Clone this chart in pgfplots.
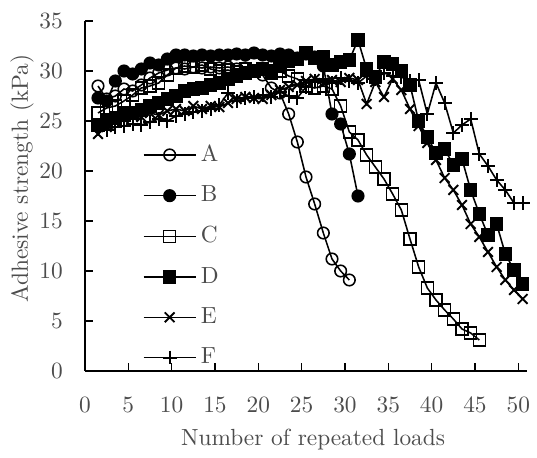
\documentclass[border=0pt]{standalone}
\usepackage{pgfplots}
\pgfplotsset{compat=1.18}
\definecolor{txt}{gray}{0.3}
\begin{document}
\begin{tikzpicture}
\useasboundingbox (-38.25pt,-39.15pt) rectangle (203.4pt,166.95pt);
\begin{axis}[
  at={(0,0)}, anchor=origin,
  scale only axis, width=198.9pt, height=157.5pt,
  xmin=0, xmax=51, ymin=0, ymax=35,
  axis x line=bottom, axis y line=left,
  axis line style={-, line width=0.65pt, black},
  xtick={0,5,...,50}, ytick={0,5,...,35},
  tick align=inside, major tick length=3.6pt,
  tick style={line width=0.65pt, black},
  /pgf/number format/assume math mode=true,
  every tick label/.append style={font=\fontsize{10.5pt}{12pt}\selectfont, text=txt},
  xticklabel style={yshift=-8pt},
  yticklabel style={xshift=-6.5pt},
  xlabel={Number of repeated loads},
  ylabel={Adhesive strength (kPa)},
  every axis x label/.style={at={(axis description cs:0.516,-0.197)}, anchor=center, font=\fontsize{10.5pt}{12pt}\selectfont, text=txt},
  every axis y label/.style={at={(axis description cs:-0.1425,0.55)}, anchor=center, rotate=90, font=\fontsize{10.5pt}{12pt}\selectfont, text=txt},
  legend style={draw=none, fill=none, at={(axis description cs:0.13,0.66)}, anchor=north west,
    font=\fontsize{10.5pt}{12pt}\selectfont, text=txt, row sep=5.5pt, inner sep=0pt},
  legend cell align=left,
  legend image code/.code={\draw[mark repeat=2,mark phase=2] plot coordinates {(0pt,0pt)(11.7pt,0pt)(23.4pt,0pt)};},
  every axis plot/.append style={line width=0.7pt, black, mark options={line width=0.85pt, solid}},
]
% A
\addplot[mark=o, mark size=2.6pt, mark options={fill=white}] coordinates {
(1.5,28.5)(2.5,27.2)(3.5,27.5)(4.5,28.2)(5.5,28.0)(6.5,28.6)(7.5,29.3)(8.5,29.8)(9.5,30.1)(10.5,30.3)
(11.5,30.2)(12.5,30.4)(13.5,30.3)(14.5,30.4)(15.5,30.3)(16.5,30.4)(17.5,30.2)(18.5,30.3)(19.5,30.0)(20.5,29.6)
(21.5,28.3)(22.5,27.8)(23.5,25.7)(24.5,22.9)(25.5,19.4)(26.5,16.7)(27.5,13.8)(28.5,11.2)(29.5,10.0)(30.5,9.1)};
\addlegendentry{A}
% B
\addplot[mark=*, mark size=2.6pt, mark options={fill=black}] coordinates {
(1.5,27.3)(2.5,27.0)(3.5,29.0)(4.5,30.0)(5.5,29.7)(6.5,30.2)(7.5,30.8)(8.5,30.6)(9.5,31.2)(10.5,31.6)
(11.5,31.6)(12.5,31.5)(13.5,31.6)(14.5,31.5)(15.5,31.6)(16.5,31.6)(17.5,31.7)(18.5,31.6)(19.5,31.8)(20.5,31.6)
(21.5,31.5)(22.5,31.7)(23.5,31.6)(24.5,31.3)(25.5,31.7)(26.5,31.4)(27.5,30.5)(28.5,25.7)(29.5,24.7)(30.5,21.7)
(31.5,17.5)};
\addlegendentry{B}
% C
\addplot[mark=square, mark size=2.7pt, mark options={fill=white}] coordinates {
(1.5,25.8)(2.5,26.3)(3.5,26.5)(4.5,27.0)(5.5,27.6)(6.5,28.3)(7.5,28.5)(8.5,28.8)(9.5,29.6)(10.5,30.3)
(11.5,30.5)(12.5,30.4)(13.5,30.6)(14.5,30.2)(15.5,30.0)(16.5,30.1)(17.5,29.9)(18.5,30.2)(19.5,30.0)(20.5,30.2)
(21.5,29.8)(22.5,30.0)(23.5,29.5)(24.5,29.2)(25.5,28.5)(26.5,28.3)(27.5,28.5)(28.5,28.2)(29.5,26.5)(30.5,23.9)
(31.5,23.1)(32.5,21.6)(33.5,20.4)(34.5,19.2)(35.5,17.7)(36.5,16.1)(37.5,13.2)(38.5,10.4)(39.5,8.3)(40.5,7.1)
(41.5,6.1)(42.5,5.2)(43.5,4.2)(44.5,3.8)(45.5,3.1)};
\addlegendentry{C}
% D
\addplot[mark=square*, mark size=2.7pt, mark options={fill=black}] coordinates {
(1.5,24.6)(2.5,25.0)(3.5,25.3)(4.5,25.6)(5.5,25.8)(6.5,26.1)(7.5,26.5)(8.5,26.8)(9.5,27.2)(10.5,27.5)
(11.5,28.0)(12.5,28.2)(13.5,28.3)(14.5,28.6)(15.5,28.8)(16.5,29.2)(17.5,29.5)(18.5,29.8)(19.5,30.0)(20.5,30.2)
(21.5,30.0)(22.5,30.5)(23.5,31.0)(24.5,31.2)(25.5,31.8)(26.5,31.3)(27.5,31.4)(28.5,30.6)(29.5,30.9)(30.5,31.1)
(31.5,33.1)(32.5,30.2)(33.5,29.4)(34.5,30.9)(35.5,30.7)(36.5,30.0)(37.5,28.6)(38.5,25.0)(39.5,23.4)(40.5,21.8)
(41.5,22.2)(42.5,20.6)(43.5,21.2)(44.5,18.1)(45.5,15.7)(46.5,13.6)(47.5,14.7)(48.5,11.7)(49.5,10.1)(50.5,8.7)};
\addlegendentry{D}
% E
\addplot[mark=x, mark size=3.1pt] coordinates {
(1.5,23.7)(2.5,24.4)(3.5,25.0)(4.5,25.2)(5.5,25.5)(6.5,25.4)(7.5,25.8)(8.5,25.6)(9.5,26.0)(10.5,26.2)
(11.5,26.0)(12.5,26.5)(13.5,26.2)(14.5,26.5)(15.5,26.4)(16.5,26.8)(17.5,27.2)(18.5,27.4)(19.5,27.3)(20.5,27.2)
(21.5,27.6)(22.5,28.1)(23.5,28.4)(24.5,28.6)(25.5,29.0)(26.5,29.2)(27.5,28.8)(28.5,29.1)(29.5,28.9)(30.5,29.3)
(31.5,29.1)(32.5,26.7)(33.5,28.9)(34.5,27.4)(35.5,29.2)(36.5,28.1)(37.5,26.2)(38.5,24.5)(39.5,22.8)(40.5,21.1)
(41.5,19.3)(42.5,18.1)(43.5,16.6)(44.5,14.7)(45.5,13.4)(46.5,11.9)(47.5,10.4)(48.5,9.1)(49.5,8.1)(50.5,7.2)};
\addlegendentry{E}
% F
\addplot[mark=+, mark size=3.1pt] coordinates {
(1.5,24.2)(2.5,24.1)(3.5,24.4)(4.5,24.5)(5.5,24.7)(6.5,24.6)(7.5,24.9)(8.5,25.2)(9.5,25.0)(10.5,25.5)
(11.5,25.7)(12.5,25.9)(13.5,26.0)(14.5,26.2)(15.5,26.6)(16.5,27.8)(17.5,27.0)(18.5,27.3)(19.5,27.4)(20.5,27.6)
(21.5,27.4)(22.5,27.9)(23.5,27.5)(24.5,27.3)(25.5,28.4)(26.5,29.0)(27.5,29.2)(28.5,28.8)(29.5,29.3)(30.5,29.0)
(31.5,28.8)(32.5,29.5)(33.5,29.2)(34.5,29.8)(35.5,29.5)(36.5,29.4)(37.5,29.0)(38.5,29.1)(39.5,25.7)(40.5,28.8)
(41.5,26.8)(42.5,23.8)(43.5,24.6)(44.5,25.2)(45.5,21.7)(46.5,20.5)(47.5,19.1)(48.5,18.1)(49.5,16.8)(50.5,16.8)};
\addlegendentry{F}
\end{axis}
\end{tikzpicture}
\end{document}
